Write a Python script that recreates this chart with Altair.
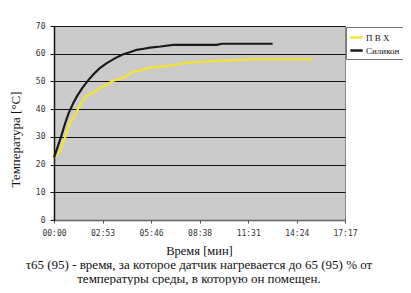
import altair as alt
import pandas as pd

# time in seconds, temperature in °C
pvc_t = [0, 10, 20, 28, 40, 52, 63, 78, 90, 104, 120, 140, 164, 190, 211, 223, 250, 282, 310, 342, 400, 440, 485, 530, 580, 640, 710, 780, 841, 922]
pvc_v = [22.5, 23.5, 24.5, 26.5, 30, 34, 36, 38.5, 41, 43.3, 45, 46, 47.5, 49, 50.3, 50.5, 51.5, 53.5, 54, 55, 55.5, 56.2, 56.9, 57.1, 57.5, 57.6, 58, 58, 58, 58]

sil_t = [0, 10, 20, 28, 40, 52, 68, 81, 100, 121, 140, 160, 188, 220, 247, 270, 295, 320, 342, 380, 424, 480, 540, 580, 598, 650, 720, 779]
sil_v = [22.5, 25.5, 28.5, 31, 35, 38.5, 42, 44.5, 47.5, 50.3, 52.5, 54.5, 56.6, 58.5, 59.8, 60.5, 61.4, 61.8, 62.2, 62.6, 63.2, 63.2, 63.2, 63.2, 63.6, 63.6, 63.6, 63.6]

series_names = ["П В Х", "Силикон"]
series_colors = ["#F5E62A", "#1A1A1A"]
tick_values = [0, 173, 346, 519, 692, 865, 1037]
tick_labels = ["00:00", "02:53", "05:46", "08:38", "11:31", "14:24", "17:17"]
caption = ["τ65 (95) - время, за которое датчик нагревается до 65 (95) % от",
           "температуры среды, в которую он помещен."]

SERIF = "Liberation Serif"

df = pd.concat([
    pd.DataFrame({"t": pvc_t, "v": pvc_v, "s": series_names[0], "o": range(len(pvc_t))}),
    pd.DataFrame({"t": sil_t, "v": sil_v, "s": series_names[1], "o": range(len(sil_t))}),
])

label_expr = "[" + ",".join("'%s'" % l for l in tick_labels) + "][round(datum.value/173)]"

x = alt.X("t:Q", scale=alt.Scale(domain=[0, 1037], nice=False, zero=False),
          axis=alt.Axis(values=tick_values, labelExpr=label_expr, grid=False,
                        title="Время [мин]", titleFont=SERIF, titleFontSize=12.5,
                        titleFontWeight="normal", titleColor="#111",
                        titleX=145, titleY=34, titleBaseline="alphabetic",
                        labelFont="DejaVu Sans Mono", labelFontSize=8, labelColor="#333",
                        labelPadding=6, tickSize=3, tickColor="#555", domainColor="#666",
                        domainWidth=1.5, labelFlush=False))
y = alt.Y("v:Q", scale=alt.Scale(domain=[0, 70], nice=False),
          axis=alt.Axis(values=list(range(0, 71, 10)), grid=True, gridColor="#111",
                        gridWidth=1, title="Температура [°C]", titleFont=SERIF,
                        titleFontSize=13, titleFontWeight="normal", titleColor="#111",
                        titleX=-39, titleY=113, titleAngle=270, titleBaseline="middle",
                        labelFont="DejaVu Sans Mono", labelFontSize=8,
                        labelColor="#333", labelPadding=5, tickSize=4, tickColor="#111",
                        domainColor="#111", domainWidth=1.5))

lines = alt.Chart(df).mark_line(strokeWidth=2.2, interpolate="linear").encode(
    x=x, y=y,
    color=alt.Color("s:N", scale=alt.Scale(domain=series_names, range=series_colors),
                    legend=alt.Legend(title=None, orient="none", legendX=292, legendY=1,
                                      symbolType="stroke", symbolStrokeWidth=2.5,
                                      symbolSize=150, labelFont=SERIF,
                                      labelFontSize=9, labelColor="#111",
                                      strokeColor="#777", padding=3, rowPadding=0,
                                      fillColor="#ffffff", labelOffset=2)),
    order="o:Q",
)

cap_df = pd.DataFrame({"line": caption})
cap1 = alt.Chart(cap_df).transform_filter(alt.datum.line == caption[0]).mark_text(
    font=SERIF, fontSize=13, color="#111", align="center",
    baseline="alphabetic").encode(text="line:N", x=alt.value(145), y=alt.value(243))
cap2 = alt.Chart(cap_df).transform_filter(alt.datum.line == caption[1]).mark_text(
    font=SERIF, fontSize=13, color="#111", align="center",
    baseline="alphabetic").encode(text="line:N", x=alt.value(145), y=alt.value(257))

chart = alt.layer(lines, cap1, cap2).properties(
    width=291, height=194,
    autosize=alt.AutoSizeParams(type="none"),
    padding={"left": 46, "top": 18, "right": 58, "bottom": 65},
).configure_view(fill="#CBCBCB", stroke="#888", strokeWidth=1)

chart.save("out.html", embed_options={"renderer": "svg", "actions": False})
